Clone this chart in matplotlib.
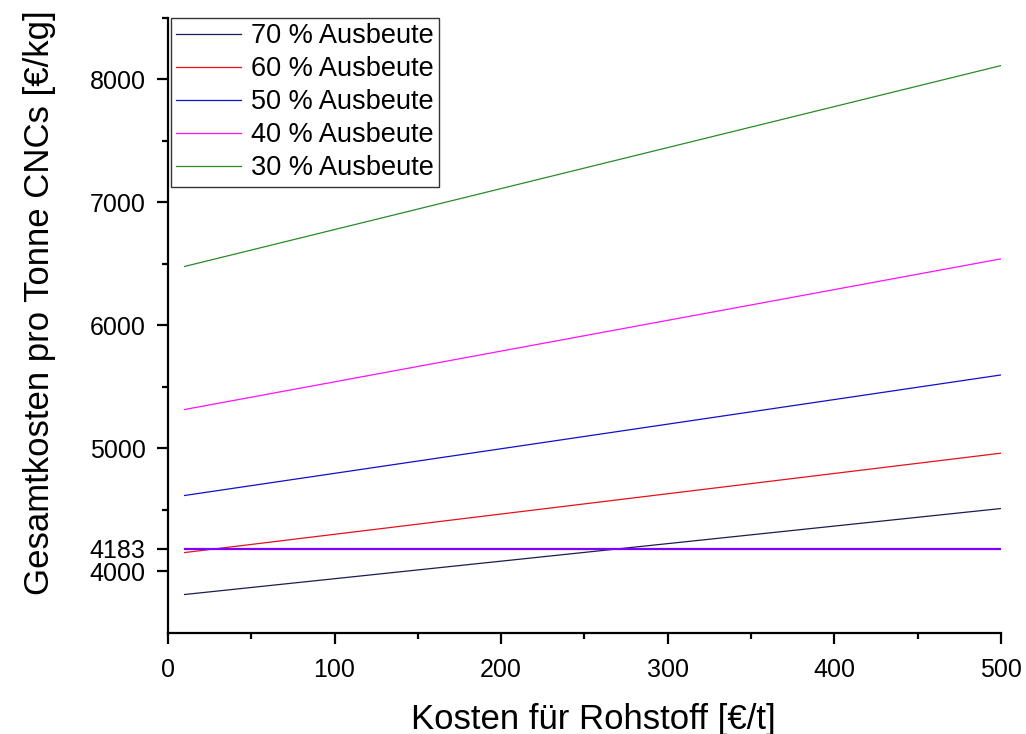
import matplotlib
matplotlib.use("Agg")
import matplotlib.pyplot as plt
from matplotlib.ticker import MultipleLocator, FixedLocator

plt.rcParams['font.family'] = ['Liberation Sans', 'DejaVu Sans']

# Raw material cost [€/t] at the start and end of each line
raw_cost = [10, 500]

# Total cost per tonne CNC [€/kg] for each yield
labels = ["70 % Ausbeute", "60 % Ausbeute", "50 % Ausbeute",
          "40 % Ausbeute", "30 % Ausbeute"]
cost_70 = [3813, 4512]
cost_60 = [4154, 4962]
cost_50 = [4618, 5598]
cost_40 = [5317, 6542]
cost_30 = [6480, 8113]
series = [cost_70, cost_60, cost_50, cost_40, cost_30]
colors = ["#1c1c50", "#e8101a", "#1010c8", "#ff10ff", "#2a8a2a"]

# Reference cost level
reference_level = 4183

y_ticks = [4000, 4183, 5000, 6000, 7000, 8000]
x_ticks = [0, 100, 200, 300, 400, 500]

fig = plt.figure(figsize=(10.26, 7.34), dpi=100)
ax = fig.add_axes([0.1637, 0.1376, 0.8119, 0.8379])

for vals, col, lab in zip(series, colors, labels):
    ax.plot(raw_cost, vals, color=col, lw=0.9, label=lab)

ax.plot(raw_cost, [reference_level, reference_level], color="#8000ff", lw=1.6)

ax.set_xlim(0, 500)
ax.set_ylim(3500, 8500)

ax.spines['top'].set_visible(False)
ax.spines['right'].set_visible(False)
for s in ('left', 'bottom'):
    ax.spines[s].set_linewidth(1.6)

ax.xaxis.set_major_locator(FixedLocator(x_ticks))
ax.xaxis.set_minor_locator(MultipleLocator(50))
ax.yaxis.set_major_locator(FixedLocator(y_ticks))
ax.yaxis.set_minor_locator(FixedLocator([4500, 5500, 6500, 7500, 8500]))
ax.tick_params(which='major', direction='out', length=8, width=1.6,
               labelsize=18)
ax.tick_params(which='minor', direction='out', length=4.5, width=1.6)
ax.tick_params(axis='x', which='major', pad=10)
ax.tick_params(axis='y', which='major', pad=8)

ax.set_xlabel("Kosten für Rohstoff [€/t]", fontsize=25, labelpad=15)
ax.set_ylabel("Gesamtkosten pro Tonne CNCs [€/kg]", fontsize=25, labelpad=24)
ax.xaxis.label.set_x(0.511)
ax.yaxis.label.set_y(0.537)

leg = ax.legend(loc='upper left', bbox_to_anchor=(0.0, 1.005), fontsize=19.5,
                frameon=True, fancybox=False, edgecolor='black',
                handlelength=2.4, handletextpad=0.35, borderpad=0.2,
                labelspacing=0.26, borderaxespad=0.1)
leg.get_frame().set_linewidth(1.0)

fig.savefig("out.png", dpi=100)
